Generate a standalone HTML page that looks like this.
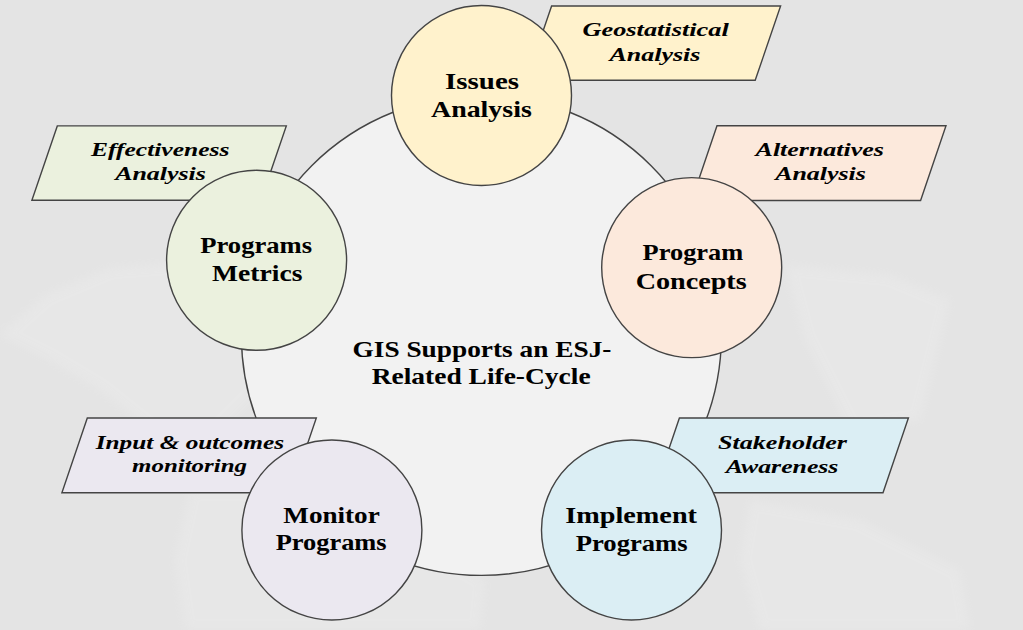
<!DOCTYPE html>
<html><head><meta charset="utf-8"><style>
html,body{margin:0;padding:0;width:1023px;height:630px;overflow:hidden;background:#e4e4e4}
svg{display:block}
text{font-family:"Liberation Serif",serif;font-weight:bold;fill:#000;stroke:#000;stroke-width:0.05px}
.i{font-style:italic}
</style></head><body>
<svg width="1023" height="630" viewBox="0 0 1023 630">
<defs><linearGradient id="bg" x1="0" y1="0" x2="0" y2="1"><stop offset="0" stop-color="#e4e4e4"/><stop offset="1" stop-color="#e8e8e8"/></linearGradient></defs>
<rect width="1023" height="630" fill="#e4e4e4"/>
<filter id="bl" x="-20%" y="-20%" width="140%" height="140%"><feGaussianBlur stdDeviation="5"/></filter>
<g fill="#ffffff" opacity="0.13" filter="url(#bl)">
<polygon points="0,335 45,295 110,268 190,262 255,275 300,320 280,370 240,410 200,450 150,430 100,390 50,360"/>
<polygon points="190,490 290,490 400,530 485,580 480,630 185,630 175,560"/>
<polygon points="785,265 890,275 950,300 920,420 850,430 805,340"/>
<polygon points="750,500 860,520 960,570 970,630 760,630 740,560"/>
</g>

<circle cx="481.4" cy="335.4" r="240.0" fill="#f2f2f2" stroke="#444444" stroke-width="1.4"/>
<polygon points="551.6,6.0 780.6,6.0 755.2,80.3 526.2,80.3" fill="#fff2cc" stroke="#444444" stroke-width="1.4" stroke-linejoin="miter"/>
<polygon points="717.0,125.8 946.0,125.8 920.6,200.5 691.6,200.5" fill="#fce9dc" stroke="#444444" stroke-width="1.4" stroke-linejoin="miter"/>
<polygon points="679.4,418.0 908.4,418.0 883.0,492.7 654.0,492.7" fill="#dbeef4" stroke="#444444" stroke-width="1.4" stroke-linejoin="miter"/>
<polygon points="57.3,125.9 286.3,125.9 260.9,200.2 31.9,200.2" fill="#ebf1de" stroke="#444444" stroke-width="1.4" stroke-linejoin="miter"/>
<polygon points="87.3,418.0 316.3,418.0 290.9,492.7 61.9,492.7" fill="#ebe8f0" stroke="#444444" stroke-width="1.4" stroke-linejoin="miter"/>
<circle cx="481.5" cy="95.5" r="90" fill="#fff2cc" stroke="#444444" stroke-width="1.4"/>
<circle cx="691.7" cy="267.6" r="90" fill="#fce9dc" stroke="#444444" stroke-width="1.4"/>
<circle cx="631.5" cy="530.0" r="90" fill="#dbeef4" stroke="#444444" stroke-width="1.4"/>
<circle cx="331.9" cy="530.0" r="90" fill="#ebe8f0" stroke="#444444" stroke-width="1.4"/>
<circle cx="256.6" cy="260.3" r="90" fill="#ebf1de" stroke="#444444" stroke-width="1.4"/>
<text x="445.0" y="89.1" font-size="24.0" textLength="74.0" lengthAdjust="spacingAndGlyphs">Issues</text>
<text x="431.0" y="116.5" font-size="24.0" textLength="100.8" lengthAdjust="spacingAndGlyphs">Analysis</text>
<text x="642.6" y="260.3" font-size="24.0" textLength="100.6" lengthAdjust="spacingAndGlyphs">Program</text>
<text x="635.7" y="289.0" font-size="24.0" textLength="110.9" lengthAdjust="spacingAndGlyphs">Concepts</text>
<text x="565.3" y="523.1" font-size="24.0" textLength="131.7" lengthAdjust="spacingAndGlyphs">Implement</text>
<text x="575.8" y="550.8" font-size="24.0" textLength="111.8" lengthAdjust="spacingAndGlyphs">Programs</text>
<text x="283.3" y="523.0" font-size="24.0" textLength="96.4" lengthAdjust="spacingAndGlyphs">Monitor</text>
<text x="275.7" y="550.0" font-size="24.0" textLength="110.9" lengthAdjust="spacingAndGlyphs">Programs</text>
<text x="200.3" y="253.0" font-size="24.0" textLength="111.7" lengthAdjust="spacingAndGlyphs">Programs</text>
<text x="212.1" y="281.4" font-size="24.0" textLength="90.3" lengthAdjust="spacingAndGlyphs">Metrics</text>
<text x="352.5" y="356.6" font-size="23.0" textLength="258.9" lengthAdjust="spacingAndGlyphs">GIS Supports an ESJ-</text>
<text x="371.7" y="383.6" font-size="23.0" textLength="218.9" lengthAdjust="spacingAndGlyphs">Related Life-Cycle</text>
<text x="582.5" y="35.8" font-size="19.5" class="i" textLength="146.2" lengthAdjust="spacingAndGlyphs">Geostatistical</text>
<text x="609.5" y="60.6" font-size="19.5" class="i" textLength="90.9" lengthAdjust="spacingAndGlyphs">Analysis</text>
<text x="755.6" y="156.1" font-size="19.5" class="i" textLength="128.3" lengthAdjust="spacingAndGlyphs">Alternatives</text>
<text x="775.2" y="180.2" font-size="19.5" class="i" textLength="90.7" lengthAdjust="spacingAndGlyphs">Analysis</text>
<text x="718.0" y="449.2" font-size="19.5" class="i" textLength="129.0" lengthAdjust="spacingAndGlyphs">Stakeholder</text>
<text x="725.8" y="472.5" font-size="19.5" class="i" textLength="112.6" lengthAdjust="spacingAndGlyphs">Awareness</text>
<text x="91.0" y="156.1" font-size="19.5" class="i" textLength="138.4" lengthAdjust="spacingAndGlyphs">Effectiveness</text>
<text x="115.2" y="180.2" font-size="19.5" class="i" textLength="90.7" lengthAdjust="spacingAndGlyphs">Analysis</text>
<text x="95.7" y="449.2" font-size="19.5" class="i" textLength="188.3" lengthAdjust="spacingAndGlyphs">Input &amp; outcomes</text>
<text x="132.1" y="472.4" font-size="19.5" class="i" textLength="114.9" lengthAdjust="spacingAndGlyphs">monitoring</text>
</svg></body></html>
